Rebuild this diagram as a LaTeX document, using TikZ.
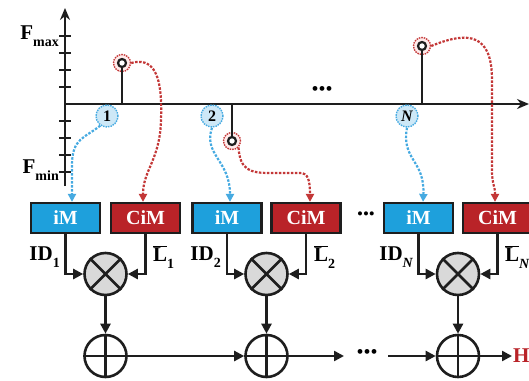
\documentclass[tikz,border=0pt]{standalone}
\usepackage{fontspec}
\setmainfont{Liberation Serif}
\usetikzlibrary{arrows.meta}
\definecolor{bbox}{RGB}{30,160,220}
\definecolor{rbox}{RGB}{185,35,40}
\definecolor{bdash}{RGB}{70,170,225}
\definecolor{rdash}{RGB}{195,55,55}
\definecolor{lblue}{RGB}{205,232,247}
\definecolor{opgray}{RGB}{217,217,217}
\definecolor{ink}{RGB}{30,30,30}
\newcommand{\sbs}[1]{\raisebox{-0.35em}{\fontsize{14}{14}\selectfont #1}}
\newcommand{\Lbar}{$\overline{\hbox{L}}$}
\begin{document}
\begin{tikzpicture}[x=1pt,y=-1pt,
  ax/.style={line width=2.5pt, draw=ink},
  blk/.style={draw=ink, line width=2.2pt, minimum width=69pt, minimum height=30pt, inner sep=0pt, text=white, font=\bfseries\fontsize{20}{20}\selectfont},
  imbox/.style={blk, fill=bbox},
  cimbox/.style={blk, fill=rbox},
  op/.style={circle, draw=ink, line width=2.6pt, minimum size=42pt, inner sep=0pt},
  mul/.style={op, fill=opgray},
  conn/.style={line width=2.4pt, draw=ink, -{Triangle[length=10pt,width=10pt]}},
  bdl/.style={draw=bdash, line width=2.2pt, dash pattern=on 2.5pt off 1.5pt, -{Triangle[length=8pt,width=8pt]}},
  rdl/.style={draw=rdash, line width=2.2pt, dash pattern=on 2.5pt off 1.5pt, -{Triangle[length=8pt,width=8pt]}},
  lbl/.style={circle, draw=bdash, fill=lblue, dash pattern=on 1.5pt off 1pt, line width=1.4pt, minimum size=22pt, inner sep=0pt, font=\bfseries\fontsize{16}{16}\selectfont},
  ring/.style={circle, draw=rdash, fill=red!8, line width=1.4pt, dash pattern=on 1.5pt off 1pt, minimum size=17pt, inner sep=0pt},
  pin/.style={circle, draw=ink, fill=white, line width=2.2pt, minimum size=8pt, inner sep=0pt},
  lab/.style={font=\bfseries\fontsize{21}{21}\selectfont, inner sep=1pt},
  dotsty/.style={font=\fontsize{20}{20}\selectfont, inner sep=0pt}
]
\useasboundingbox (0,0) rectangle (529,380);
% axes
\coordinate (o) at (65,104);
\coordinate (ybot) at (65,186);
\coordinate (ytop) at (65,8);
\coordinate (xend) at (529,104);
\draw[ax, -{Stealth[length=12pt,width=10pt]}] (ybot) -- (ytop);
\draw[ax, -{Stealth[length=12pt,width=10pt]}] (o) -- (xend);
\foreach \t in {36,53,70,87,121,138,155,172} \draw[ax] (59,\t) -- (71,\t);
\node[lab, anchor=east] (fmax) at (60,36) {F\sbs{max}};
\node[lab, anchor=east] (fmin) at (60,170) {F\sbs{min}};
\node[dotsty] (dotsA) at (322,91) {•••};
% stems
\coordinate (b1) at (122,104);
\coordinate (b2) at (232,104);
\coordinate (bN) at (422,104);
\node[ring] (r1) at (122,63) {};
\node[pin] (d1) at (122,63) {};
\draw[ax] (d1.south) -- (b1);
\node[ring] (r2) at (232,141) {};
\node[pin] (d2) at (232,141) {};
\draw[ax] (b2) -- (d2.north);
\node[ring] (rN) at (422,46) {};
\node[pin] (dN) at (422,46) {};
\draw[ax] (dN.south) -- (bN);
% index labels
\node[lbl] (l1) at (107,116) {1};
\node[lbl] (l2) at (212,116) {2};
\node[lbl] (lN) at (407,116) {\itshape N};
% blocks
\node[imbox]  (iM1) at (65.5,218) {iM};
\node[cimbox] (CiM1) at (145.5,218) {CiM};
\node[imbox]  (iM2) at (227,218) {iM};
\node[cimbox] (CiM2) at (306,218) {CiM};
\node[dotsty] (dotsB) at (366,216) {\fontsize{17}{17}\selectfont •••};
\node[imbox]  (iMN) at (418.5,218) {iM};
\node[cimbox] (CiMN) at (497.5,218) {CiM};
% dashed mapping arrows
\draw[bdl] (l1.235) .. controls (85,138) and (72,138) .. (72,165) -- ([xshift=6.5pt]iM1.north);
\draw[bdl] (l2.south) .. controls (203,155) and (230,160) .. ([xshift=3pt]iM2.north);
\draw[bdl] (lN.south) .. controls (401,160) and (425,160) .. ([xshift=4.5pt]iMN.north);
\draw[rdl] (r1.east) .. controls (160,55) and (162,90) .. (161,120) .. controls (160,160) and (143,170) .. ([xshift=-2.5pt]CiM1.north);
\draw[rdl] (r2.south east) .. controls (240,170) and (250,173) .. (270,173) -- (300,173) .. controls (308,173) and (310,180) .. ([xshift=4pt]CiM2.north);
\draw[rdl] (rN.east) .. controls (470,30) and (492,35) .. (492,80) -- (492,170) .. controls (492,185) and (495,185) .. ([xshift=-2.5pt]CiMN.north);
% multipliers and adders
\foreach \n/\x in {1/105.5,2/266.5,N/458} {
  \node[mul] (m\n) at (\x,274) {};
  \draw[ax] (m\n.north east) -- (m\n.south west) (m\n.north west) -- (m\n.south east);
  \node[op] (a\n) at (\x,356) {};
  \draw[ax] (a\n.north) -- (a\n.south) (a\n.west) -- (a\n.east);
  \draw[conn] (m\n) -- (a\n);
}
\draw[conn] (iM1.south) |- (m1.west);
\draw[conn] (CiM1.south) |- (m1.east);
\draw[conn] (iM2.south) |- (m2.west);
\draw[conn] (CiM2.south) |- (m2.east);
\draw[conn] (iMN.south) |- (mN.west);
\draw[conn] (CiMN.south) |- (mN.east);
% operand labels
\node[lab, anchor=east] (id1) at (61,257) {ID\sbs{1}};
\node[lab, anchor=west] (L1) at (152,257) {\Lbar\sbs{1}};
\node[lab, anchor=east] (id2) at (222,257) {ID\sbs{2}};
\node[lab, anchor=west] (L2) at (313,257) {\Lbar\sbs{2}};
\node[lab, anchor=east] (idN) at (414,257) {ID\sbs{\itshape N}};
\node[lab, anchor=west] (LN) at (504,257) {\Lbar\sbs{\itshape N}};
% accumulation chain
\coordinate (e2) at (344,356);
\coordinate (sN) at (388,356);
\node[dotsty] (dotsC) at (367,354) {•••};
\node[lab, anchor=west, text=rbox] (H) at (512,356) {H};
\draw[conn] (a1) -- (a2);
\draw[conn] (a2) -- (e2);
\draw[conn] (sN) -- (aN);
\draw[conn] (aN) -- (H.west);
\end{tikzpicture}
\end{document}
